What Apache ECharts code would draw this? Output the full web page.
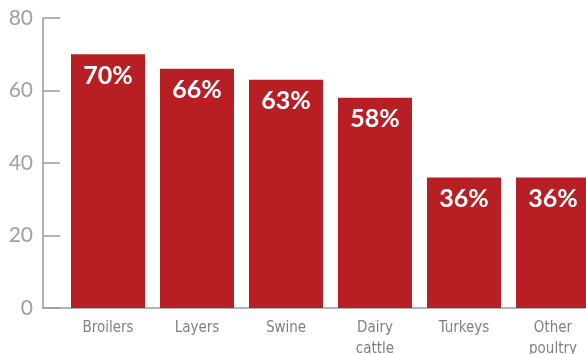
<!DOCTYPE html>
<html><head><meta charset="utf-8">
<script src="https://cdn.jsdelivr.net/npm/echarts@6/dist/echarts.min.js"></script>
<style>html,body{margin:0;padding:0;background:#fff}#c{width:586px;height:354px}</style>
</head><body><div id="c"></div>
<script>
const categories = ['Broilers', 'Layers', 'Swine', 'Dairy\ncattle', 'Turkeys', 'Other\npoultry'];
const values = [70, 66, 63, 58, 36, 36];
const yTicks = [0, 20, 40, 60, 80];

const chart = echarts.init(document.getElementById('c'), null, {renderer: 'canvas'});
const grey = '#9a9a9a';
chart.setOption({
  animation: false,
  grid: [
    {left: 63.5, width: 534, top: 18, bottom: 46, containLabel: false, outerBoundsMode: 'none'},
    {left: 43, right: 0, top: 18, bottom: 46, containLabel: false, outerBoundsMode: 'none'}
  ],
  xAxis: [
    {type: 'category', gridIndex: 0, data: categories,
     axisLine: {show: false}, axisTick: {show: false},
     axisLabel: {color: '#808080', fontFamily: 'DejaVu Sans Condensed, sans-serif', fontSize: 15, margin: 10, lineHeight: 21}},
    {type: 'value', gridIndex: 1, min: 0, max: 1,
     axisLine: {show: true, lineStyle: {color: grey, width: 1.5}},
     axisTick: {show: false}, axisLabel: {show: false}, splitLine: {show: false}}
  ],
  yAxis: [
    {type: 'value', gridIndex: 0, min: 0, max: 80, show: false},
    {type: 'value', gridIndex: 1, min: yTicks[0], max: yTicks[yTicks.length - 1], interval: 20,
     axisLine: {show: true, lineStyle: {color: grey, width: 1.5}},
     axisTick: {show: true, inside: true, length: 17, lineStyle: {color: grey, width: 1.5}},
     axisLabel: {color: '#a0a0a0', fontFamily: 'Lato, Noto Sans, sans-serif', fontSize: 21, margin: 10},
     splitLine: {show: false}}
  ],
  series: [{
    type: 'bar', xAxisIndex: 0, yAxisIndex: 0, data: values,
    barWidth: 74,
    itemStyle: {color: '#b81f25'},
    label: {show: true, position: 'insideTop', distance: 9, formatter: '{c}%',
      color: '#fff', fontWeight: 'bold', fontSize: 25, fontFamily: 'Lato, Noto Sans, sans-serif'}
  }]
});
</script></body></html>
